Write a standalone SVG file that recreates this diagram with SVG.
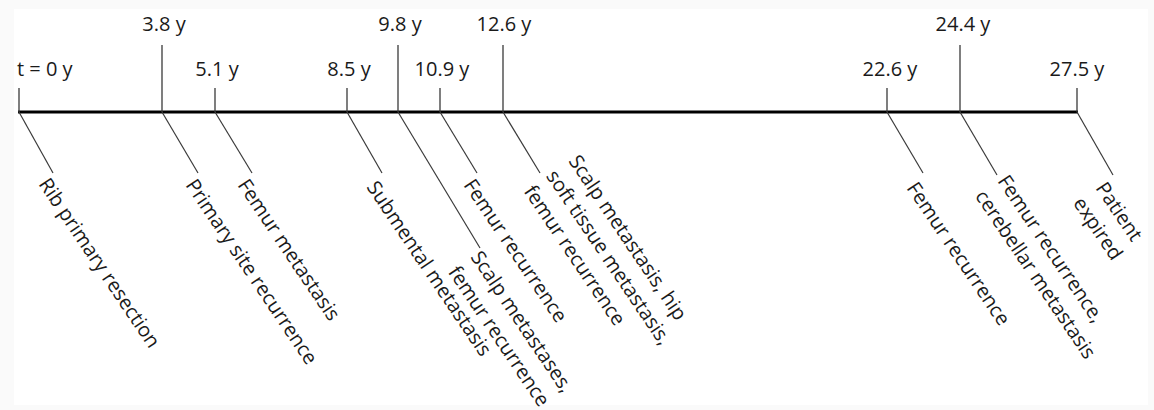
<svg xmlns="http://www.w3.org/2000/svg" width="1154" height="410" viewBox="0 0 1154 410">
<style>
.lbl{font-family:"Open Sans","Liberation Sans",sans-serif;font-size:20px;fill:#1a1a1a}
.tick{stroke:#3a3a3a;stroke-width:1.3;fill:none}
.conn{stroke:#3a3a3a;stroke-width:1.2;fill:none}
.axis{stroke:#000;stroke-width:3;fill:none}
</style>
<rect x="0" y="0" width="1154" height="410" fill="#fafafa"/>
<rect x="14" y="9" width="1134" height="396" fill="#fff"/>
<g id="axis">
<line class="axis" x1="18" y1="112" x2="1078" y2="112"/>
</g>
<g id="ticks">
<line class="tick" x1="19" y1="88" x2="19" y2="112"/>
<line class="tick" x1="162" y1="45" x2="162" y2="112"/>
<line class="tick" x1="215" y1="88" x2="215" y2="112"/>
<line class="tick" x1="347" y1="88" x2="347" y2="112"/>
<line class="tick" x1="398" y1="45" x2="398" y2="112"/>
<line class="tick" x1="440" y1="88" x2="440" y2="112"/>
<line class="tick" x1="503" y1="45" x2="503" y2="112"/>
<line class="tick" x1="887" y1="88" x2="887" y2="112"/>
<line class="tick" x1="960" y1="45" x2="960" y2="112"/>
<line class="tick" x1="1077" y1="88" x2="1077" y2="112"/>
</g>
<g id="time-labels">
<text class="lbl" x="17" y="76">t = 0 y</text>
<text class="lbl" x="164" y="31" text-anchor="middle">3.8 y</text>
<text class="lbl" x="217" y="76" text-anchor="middle">5.1 y</text>
<text class="lbl" x="349" y="76" text-anchor="middle">8.5 y</text>
<text class="lbl" x="400" y="31" text-anchor="middle">9.8 y</text>
<text class="lbl" x="442" y="76" text-anchor="middle">10.9 y</text>
<text class="lbl" x="504" y="31" text-anchor="middle">12.6 y</text>
<text class="lbl" x="890" y="76" text-anchor="middle">22.6 y</text>
<text class="lbl" x="963" y="31" text-anchor="middle">24.4 y</text>
<text class="lbl" x="1077" y="76" text-anchor="middle">27.5 y</text>
</g>
<g id="connectors">
<line class="conn" x1="19" y1="112" x2="53" y2="173"/>
<line class="conn" x1="162" y1="112" x2="198" y2="173"/>
<line class="conn" x1="215" y1="112" x2="252" y2="173"/>
<line class="conn" x1="347" y1="112" x2="382" y2="173"/>
<line class="conn" x1="398" y1="112" x2="480" y2="248"/>
<line class="conn" x1="440" y1="112" x2="477" y2="173"/>
<line class="conn" x1="503" y1="112" x2="540" y2="173"/>
<line class="conn" x1="887" y1="112" x2="923" y2="173"/>
<line class="conn" x1="960" y1="112" x2="997" y2="175"/>
<line class="conn" x1="1077" y1="112" x2="1113" y2="175"/>
</g>
<g id="event-0" transform="translate(38,184) rotate(56)"><text class="lbl">Rib primary resection</text></g>
<g id="event-3-8" transform="translate(185,185) rotate(56)"><text class="lbl">Primary site recurrence</text></g>
<g id="event-5-1" transform="translate(237,185) rotate(56)"><text class="lbl">Femur metastasis</text></g>
<g id="event-8-5" transform="translate(366,187) rotate(56)"><text class="lbl">Submental metastasis</text></g>
<g id="event-9-8" transform="translate(470,257) rotate(56)"><text class="lbl"><tspan x="0" y="0">Scalp metastases,</tspan><tspan x="0" dy="27">femur recurrence</tspan></text></g>
<g id="event-10-9" transform="translate(463,185) rotate(56)"><text class="lbl">Femur recurrence</text></g>
<g id="event-12-6" transform="translate(568,161) rotate(56)"><text class="lbl"><tspan x="0" y="0">Scalp metastasis, hip</tspan><tspan x="0" dy="27">soft tissue metastasis,</tspan><tspan x="0" dy="27">femur recurrence</tspan></text></g>
<g id="event-22-6" transform="translate(906,188) rotate(56)"><text class="lbl">Femur recurrence</text></g>
<g id="event-24-4" transform="translate(997,181) rotate(56)"><text class="lbl"><tspan x="0" y="0">Femur recurrence,</tspan><tspan x="0" dy="27">cerebellar metastasis</tspan></text></g>
<g id="event-27-5" transform="translate(1095,188) rotate(56)"><text class="lbl"><tspan x="0" y="0">Patient</tspan><tspan x="0" dy="27">expired</tspan></text></g>
</svg>
